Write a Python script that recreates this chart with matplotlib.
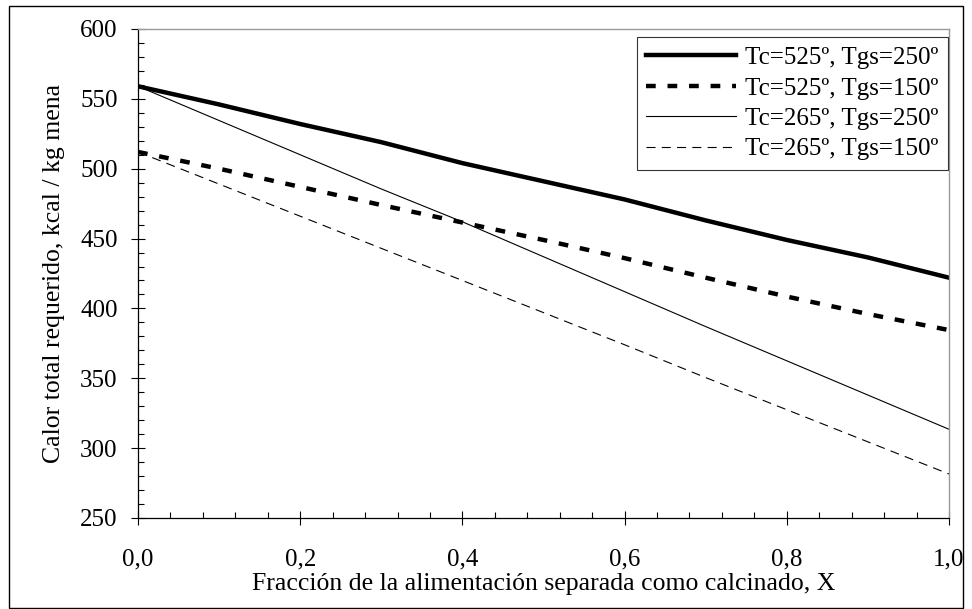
import matplotlib
matplotlib.use("Agg")
import matplotlib.pyplot as plt
from matplotlib.patches import Rectangle
from matplotlib.ticker import MultipleLocator, FuncFormatter

plt.rcParams['font.family'] = ['Liberation Serif', 'DejaVu Serif']
plt.rcParams['lines.scale_dashes'] = False

x = [0.0, 0.1, 0.2, 0.3, 0.4, 0.5, 0.6, 0.7, 0.8, 0.9, 1.0]
s_525_250 = [559, 546, 532, 519, 504, 491, 478, 463, 449, 436.5, 422]
s_525_150 = [512, 500, 487, 474, 461.5, 449, 436, 422, 408.5, 396, 384.5]
s_265_250 = [559, 534.5, 510, 485.5, 462, 437, 412, 387, 362.5, 338, 313.5]
s_265_150 = [512, 489, 466, 443, 420, 397, 374, 350.5, 327.5, 304.5, 281.5]
labels = ["Tc=525º, Tgs=250º", "Tc=525º, Tgs=150º", "Tc=265º, Tgs=250º", "Tc=265º, Tgs=150º"]

FS = 18

fig = plt.figure(figsize=(9.72, 6.09), dpi=100)
ax = fig.add_axes([138/972, 1-518/609, (949-138)/972, (518-29)/609])

ax.plot(x, s_525_250, color='black', lw=3.2, solid_joinstyle='round', label=labels[0])
ax.plot(x, s_525_150, color='black', lw=3.2, dashes=(7.0, 8.5), dash_capstyle='butt', label=labels[1])
ax.plot(x, s_265_250, color='black', lw=0.8, label=labels[2])
ax.plot(x, s_265_150, color='black', lw=0.8, dashes=(6.5, 4.5), label=labels[3])

ax.set_xlim(0, 1)
ax.set_ylim(250, 600)
ax.xaxis.set_major_locator(MultipleLocator(0.2))
ax.xaxis.set_minor_locator(MultipleLocator(0.04))
ax.yaxis.set_major_locator(MultipleLocator(50))
ax.yaxis.set_minor_locator(MultipleLocator(10))
ax.xaxis.set_major_formatter(FuncFormatter(lambda v, p: f"{v:.1f}".replace('.', ',')))
ax.yaxis.set_major_formatter(FuncFormatter(lambda v, p: f"{int(round(v))}"))

ax.tick_params(which='major', direction='inout', length=9.5, width=0.8, labelsize=FS, colors='black')
ax.tick_params(which='minor', direction='in', length=4.5, width=0.8)
ax.tick_params(axis='x', which='major', pad=17)
ax.tick_params(axis='y', which='major', pad=10)

for s in ['left', 'bottom']:
    ax.spines[s].set_color('black')
    ax.spines[s].set_linewidth(0.9)
for s in ['top', 'right']:
    ax.spines[s].set_color('#999999')
    ax.spines[s].set_linewidth(1.0)

ax.set_xlabel("Fracción de la alimentación separada como calcinado, X", fontsize=18.5, labelpad=2)
ax.set_ylabel("Calor total requerido, kcal / kg mena", fontsize=18.5, labelpad=11)

leg = ax.legend(loc='upper right', bbox_to_anchor=(948/972, 1-37/609), bbox_transform=fig.transFigure,
                borderaxespad=0, fontsize=FS, frameon=True, fancybox=False, shadow=False,
                handlelength=3.6, handletextpad=0.36, labelspacing=0.32, borderpad=0.38)
leg.get_frame().set_edgecolor('black')
leg.get_frame().set_linewidth(0.8)

fig.patches.append(Rectangle((9/972, 1-608/609), (963-9)/972, (608-6)/609, transform=fig.transFigure,
                             fill=False, edgecolor='black', linewidth=1.0))

fig.savefig("out.png", dpi=100)
